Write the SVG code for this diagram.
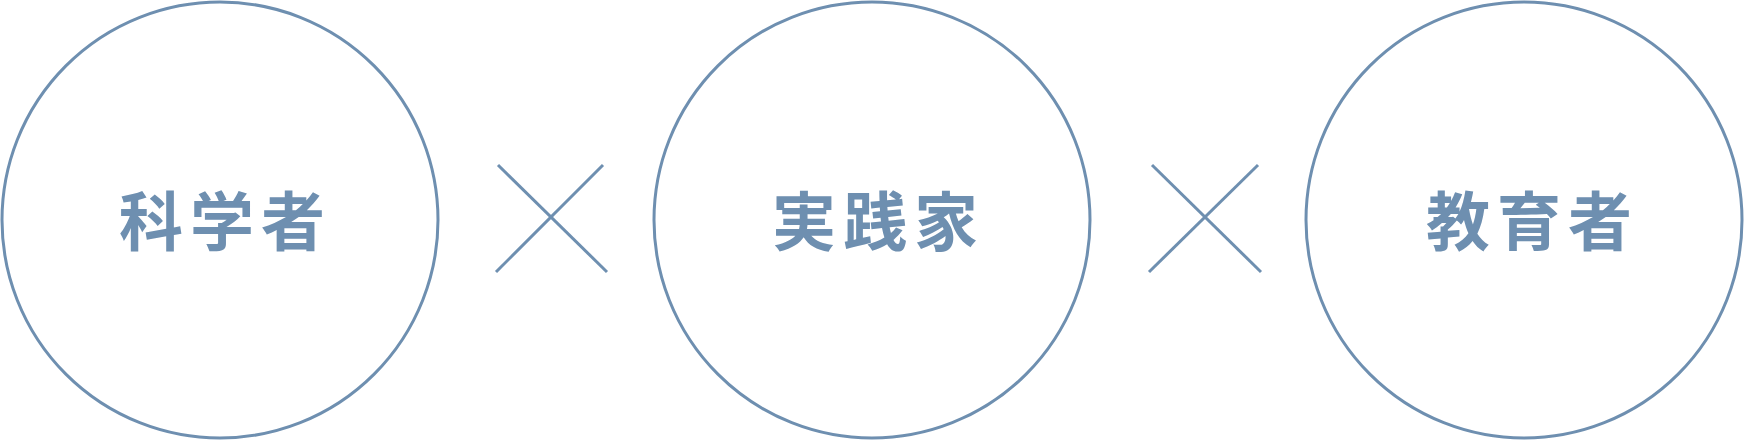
<svg xmlns="http://www.w3.org/2000/svg" width="1744" height="440" viewBox="0 0 1744 440">
<style>
.ring{fill:#ffffff;stroke:#6e8fb0;stroke-width:3}
.lbl{fill:#6e8fb0;font-family:"Noto Sans CJK JP","Noto Sans CJK SC",sans-serif;font-size:64px;font-weight:700;text-anchor:middle}
.cross line{stroke:#6e8fb0;stroke-width:3;stroke-linecap:butt}
</style>
<rect width="1744" height="440" fill="#ffffff"/>
<g id="scientist">
<circle class="ring" cx="220" cy="220" r="218"/>
<text class="lbl" x="151 222 293" y="245">科学者</text>
</g>
<g id="practitioner">
<circle class="ring" cx="872" cy="220" r="218"/>
<text class="lbl" x="804 875 946" y="245">実践家</text>
</g>
<g id="educator">
<circle class="ring" cx="1524" cy="220" r="218"/>
<text class="lbl" x="1458 1529 1600" y="245">教育者</text>
</g>
<g id="connectors" class="cross">
<line x1="498" y1="165" x2="607" y2="272"/>
<line x1="603" y1="165" x2="496" y2="272"/>
<line x1="1152" y1="165" x2="1261" y2="272"/>
<line x1="1258" y1="165" x2="1149" y2="272"/>
</g>
</svg>
